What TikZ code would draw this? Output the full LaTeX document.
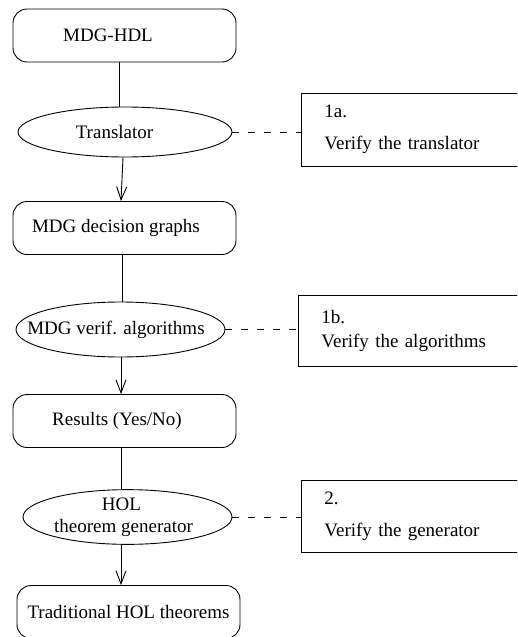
\documentclass[tikz,border=0pt]{standalone}
\usepackage{fontspec}
\setmainfont{Liberation Serif}
\usetikzlibrary{shapes.geometric, arrows.meta, positioning}
\tikzset{
    base/.style = {
        draw=black, line width=0.9pt, inner sep=0pt,
        font=\fontsize{19}{22}\selectfont
    },
    % Flow elements
    stage/.style = {base, rectangle, rounded corners=14pt, minimum width=223pt, minimum height=53pt},
    tool/.style  = {base, ellipse, minimum width=212pt, minimum height=52pt, align=center},
    task/.style  = {base, rectangle, text width=200pt, inner xsep=23pt, minimum height=73pt, align=left},
    % Edges
    arrow/.style = {line width=0.9pt, -{Straight Barb[length=13pt,width=10pt]}},
    link/.style = {line width=0.9pt},
    dashed_link/.style = {line width=0.9pt, dash pattern=on 7pt off 9pt}
}
% text of a fixed-size ellipse, shifted left by half of #1
\newcommand{\ovaltext}[2]{\makebox[0pt]{\hspace*{-#1}#2}}

\begin{document}
\begin{tikzpicture}[x=1pt, y=-1pt]
    \useasboundingbox (0,0) rectangle (517,637);
    \clip (0,0) rectangle (517,637);

    % Main flow, top to bottom
    \node (hdl) [stage] at (124.5,35.5) {\hspace*{-33pt}MDG-HDL};
    \node (trans) [tool, minimum width=214pt, minimum height=50pt] at (125,132) {\ovaltext{21pt}{Translator}};
    \node (graphs) [stage] at (124.5,228) {\hspace*{-17pt}MDG decision graphs};
    \node (verif) [tool, minimum width=209pt, minimum height=55pt] at (120.5,329.5) {\ovaltext{9pt}{MDG verif. algorithms}};
    \node (results) [stage] at (124.5,421) {\hspace*{-15pt}Results (Yes/No)};
    \node (holgen) [tool, minimum width=209pt, minimum height=54pt] at (127.5,517) {\ovaltext{12pt}{HOL}\\\ovaltext{8pt}{theorem generator}};
    \node (trad) [stage] at (128.5,612) {Traditional HOL theorems};

    % Verification tasks on the right
    \node (task1a) [task, anchor=west] at (301,129.5) {1a.\\[10pt]Verify the translator};
    \node (task1b) [task, anchor=west, minimum height=71pt] at (298,330.5) {1b.\\[2pt]Verify the algorithms};
    \node (task2) [task, anchor=west, minimum height=72pt] at (301,516) {2.\\[10pt]Verify the generator};

    % Connectors
    \draw [link] ([xshift=-5.5pt]hdl.south) -- ([xshift=-6pt]trans.north);
    \draw [arrow] ([xshift=-2pt]trans.south) -- ([xshift=-3.5pt]graphs.north);
    \draw [link] ([xshift=-2.5pt]graphs.south) -- ([xshift=1.5pt]verif.north);
    \draw [arrow] ([xshift=0.5pt]verif.south) -- ([xshift=-3.5pt]results.north);
    \draw [link] ([xshift=-3.5pt]results.south) -- ([xshift=-6.5pt]holgen.north);
    \draw [arrow] ([xshift=-6.5pt]holgen.south) -- ([xshift=-7.5pt]trad.north);

    \draw [dashed_link] (trans.east) -- (trans.east -| task1a.west);
    \draw [dashed_link] (verif.east) -- (verif.east -| task1b.west);
    \draw [dashed_link] (holgen.east) -- (holgen.east -| task2.west);
\end{tikzpicture}
\end{document}
